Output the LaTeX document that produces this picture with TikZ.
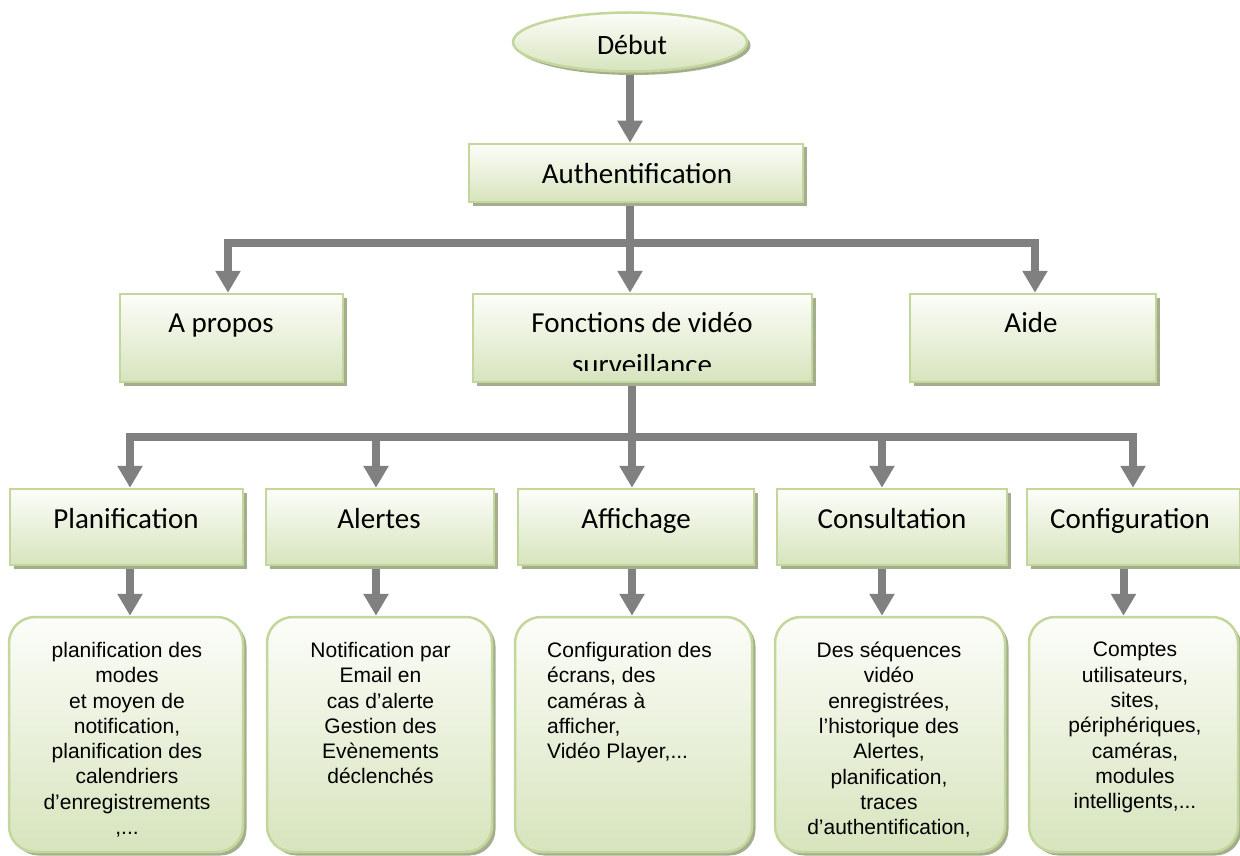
\documentclass[tikz,border=0pt]{standalone}
\usepackage{fontspec}
\setmainfont{Liberation Sans}
\newfontfamily\calfont{Carlito}
\usetikzlibrary{arrows.meta,shadows,shapes.geometric,backgrounds}

\definecolor{boxborder}{HTML}{C3D69B}
\definecolor{boxbottom}{HTML}{D7E4BD}
\definecolor{boxtop}{HTML}{FCFDF9}
\definecolor{boxshadow}{HTML}{A4AE8E}
\definecolor{linkgray}{HTML}{808080}

\pgfdeclarelayer{canvas}
\pgfsetlayers{canvas,background,main}

\tikzset{
  panel/.style={draw=boxborder, line width=2.5pt, top color=boxtop, bottom color=boxbottom,
    drop shadow={shadow xshift=3.5pt, shadow yshift=-3.5pt, fill=boxshadow, opacity=1},
    inner sep=0pt},
  rectpanel/.style={panel, rectangle},
  roundpanel/.style={panel, rectangle, rounded corners=26pt},
  title/.style={font=\calfont\fontsize{29}{42}\selectfont, inner sep=0pt, anchor=base},
  detail/.style={font=\fontsize{21}{25.3}\selectfont, inner sep=0pt, anchor=north, align=center},
  link/.style={draw=linkgray, line width=8pt},
  arrowlink/.style={link, -{Triangle[width=24pt,length=22pt]}},
}

\begin{document}
\begin{tikzpicture}[x=1pt, y=-1pt]
\useasboundingbox (0,0) rectangle (1240,856);
\begin{pgfonlayer}{canvas}
  \fill[white] (0,0) rectangle (1240,856);
\end{pgfonlayer}

% start
\node[ellipse, panel, minimum width=234pt, minimum height=59pt] (debut) at (630,42) {};
\node[title, font=\calfont\fontsize{28}{34}\selectfont] (debutT) at (632,55) {Début};

% login
\node[rectpanel, minimum width=334pt, minimum height=58pt] (auth) at (636,173) {};
\node[title] (authT) at (637,183) {Authentification};

% first level
\node[rectpanel, minimum width=223pt, minimum height=88pt] (apropos) at (231.5,338) {};
\node[title] (aproposT) at (221,332) {A propos};
\node[rectpanel, minimum width=339pt, minimum height=88pt] (fonctions) at (642.5,338) {};
\node[title] (fonctionsT) at (642,332) {Fonctions de vidéo};
\begin{scope}
  \clip (473,294) rectangle (812,370);
  \node[title] (fonctionsT2) at (642,374) {surveillance};
\end{scope}
\node[rectpanel, minimum width=246pt, minimum height=88pt] (aide) at (1033,338) {};
\node[title] (aideT) at (1031,332) {Aide};

% second level
\node[rectpanel, minimum width=233pt, minimum height=76pt] (plan) at (126.5,527) {};
\node[title] (planT) at (126,528) {Planification};
\node[rectpanel, minimum width=228pt, minimum height=76pt] (alert) at (380,527) {};
\node[title] (alertT) at (379,528) {Alertes};
\node[rectpanel, minimum width=236pt, minimum height=76pt] (aff) at (636,527) {};
\node[title] (affT) at (636,528) {Affichage};
\node[rectpanel, minimum width=230pt, minimum height=76pt] (cons) at (892,527) {};
\node[title] (consT) at (892,528) {Consultation};
\node[rectpanel, minimum width=213pt, minimum height=76pt] (conf) at (1133.5,527) {};
\node[title] (confT) at (1130,528) {Configuration};

% details
\node[roundpanel, minimum width=234pt, minimum height=235pt] (plandet) at (126,734.5) {};
\node[detail] (plandetT) at (127,642) {planification des\\modes\\et moyen de\\notification,\\planification des\\calendriers\\d’enregistrements\\,...};
\node[roundpanel, minimum width=225pt, minimum height=235pt] (alertdet) at (379.5,734.5) {};
\node[detail] (alertdetT) at (380.5,642) {Notification par\\Email en\\cas d’alerte\\Gestion des\\Evènements\\déclenchés};
\node[roundpanel, minimum width=237pt, minimum height=235pt] (affdet) at (633.5,734.5) {};
\node[detail, anchor=north west, align=left] (affdetT) at (547,642) {Configuration des\\écrans, des\\caméras à\\afficher,\\Vidéo Player,...};
\node[roundpanel, minimum width=230pt, minimum height=235pt] (consdet) at (890,734.5) {};
\node[detail] (consdetT) at (889,642) {Des séquences\\vidéo\\enregistrées,\\l’historique des\\Alertes,\\planification,\\traces\\d’authentification,};
\node[roundpanel, minimum width=209pt, minimum height=235pt] (confdet) at (1133.5,734.5) {};
\node[detail] (confdetT) at (1135,642) {Comptes\\utilisateurs,\\sites,\\périphériques,\\caméras,\\modules\\intelligents,...};

% connectors
\coordinate (hub1) at (630,243);
\coordinate (hubL) at (228,243);
\coordinate (hubR) at (1035,243);
\coordinate (hub2) at (632,437);
\coordinate (hubP) at (130,437);
\coordinate (hubA) at (376,437);
\coordinate (hubC) at (882,437);
\coordinate (hubF) at (1133,437);

\begin{pgfonlayer}{background}
  \draw[arrowlink] (debut.south) -- (debut.south |- auth.north);
  \draw[link] (auth.south -| hub1) -- (hub1);
  \draw[arrowlink] (hub1) -- (hubL) -- (hubL |- apropos.north);
  \draw[arrowlink] (hub1) -- (hubR) -- (hubR |- aide.north);
  \draw[arrowlink] (hub1) -- (hub1 |- fonctions.north);

  \draw[link] (fonctions.south -| hub2) -- (hub2);
  \draw[arrowlink] (hub2) -- (hubP) -- (hubP |- plan.north);
  \draw[arrowlink] (hub2) -- (hubF) -- (hubF |- conf.north);
  \draw[arrowlink] (hubA) -- (hubA |- alert.north);
  \draw[arrowlink] (hub2) -- (hub2 |- aff.north);
  \draw[arrowlink] (hubC) -- (hubC |- cons.north);

  \draw[arrowlink] (plan.south -| hubP) -- (hubP |- plandet.north);
  \draw[arrowlink] (alert.south -| hubA) -- (hubA |- alertdet.north);
  \draw[arrowlink] (aff.south -| hub2) -- (hub2 |- affdet.north);
  \draw[arrowlink] (cons.south -| hubC) -- (hubC |- consdet.north);
  \draw[arrowlink] ([xshift=-10pt]conf.south) -- ([xshift=-10pt]conf.south |- confdet.north);
\end{pgfonlayer}
\end{tikzpicture}
\end{document}
